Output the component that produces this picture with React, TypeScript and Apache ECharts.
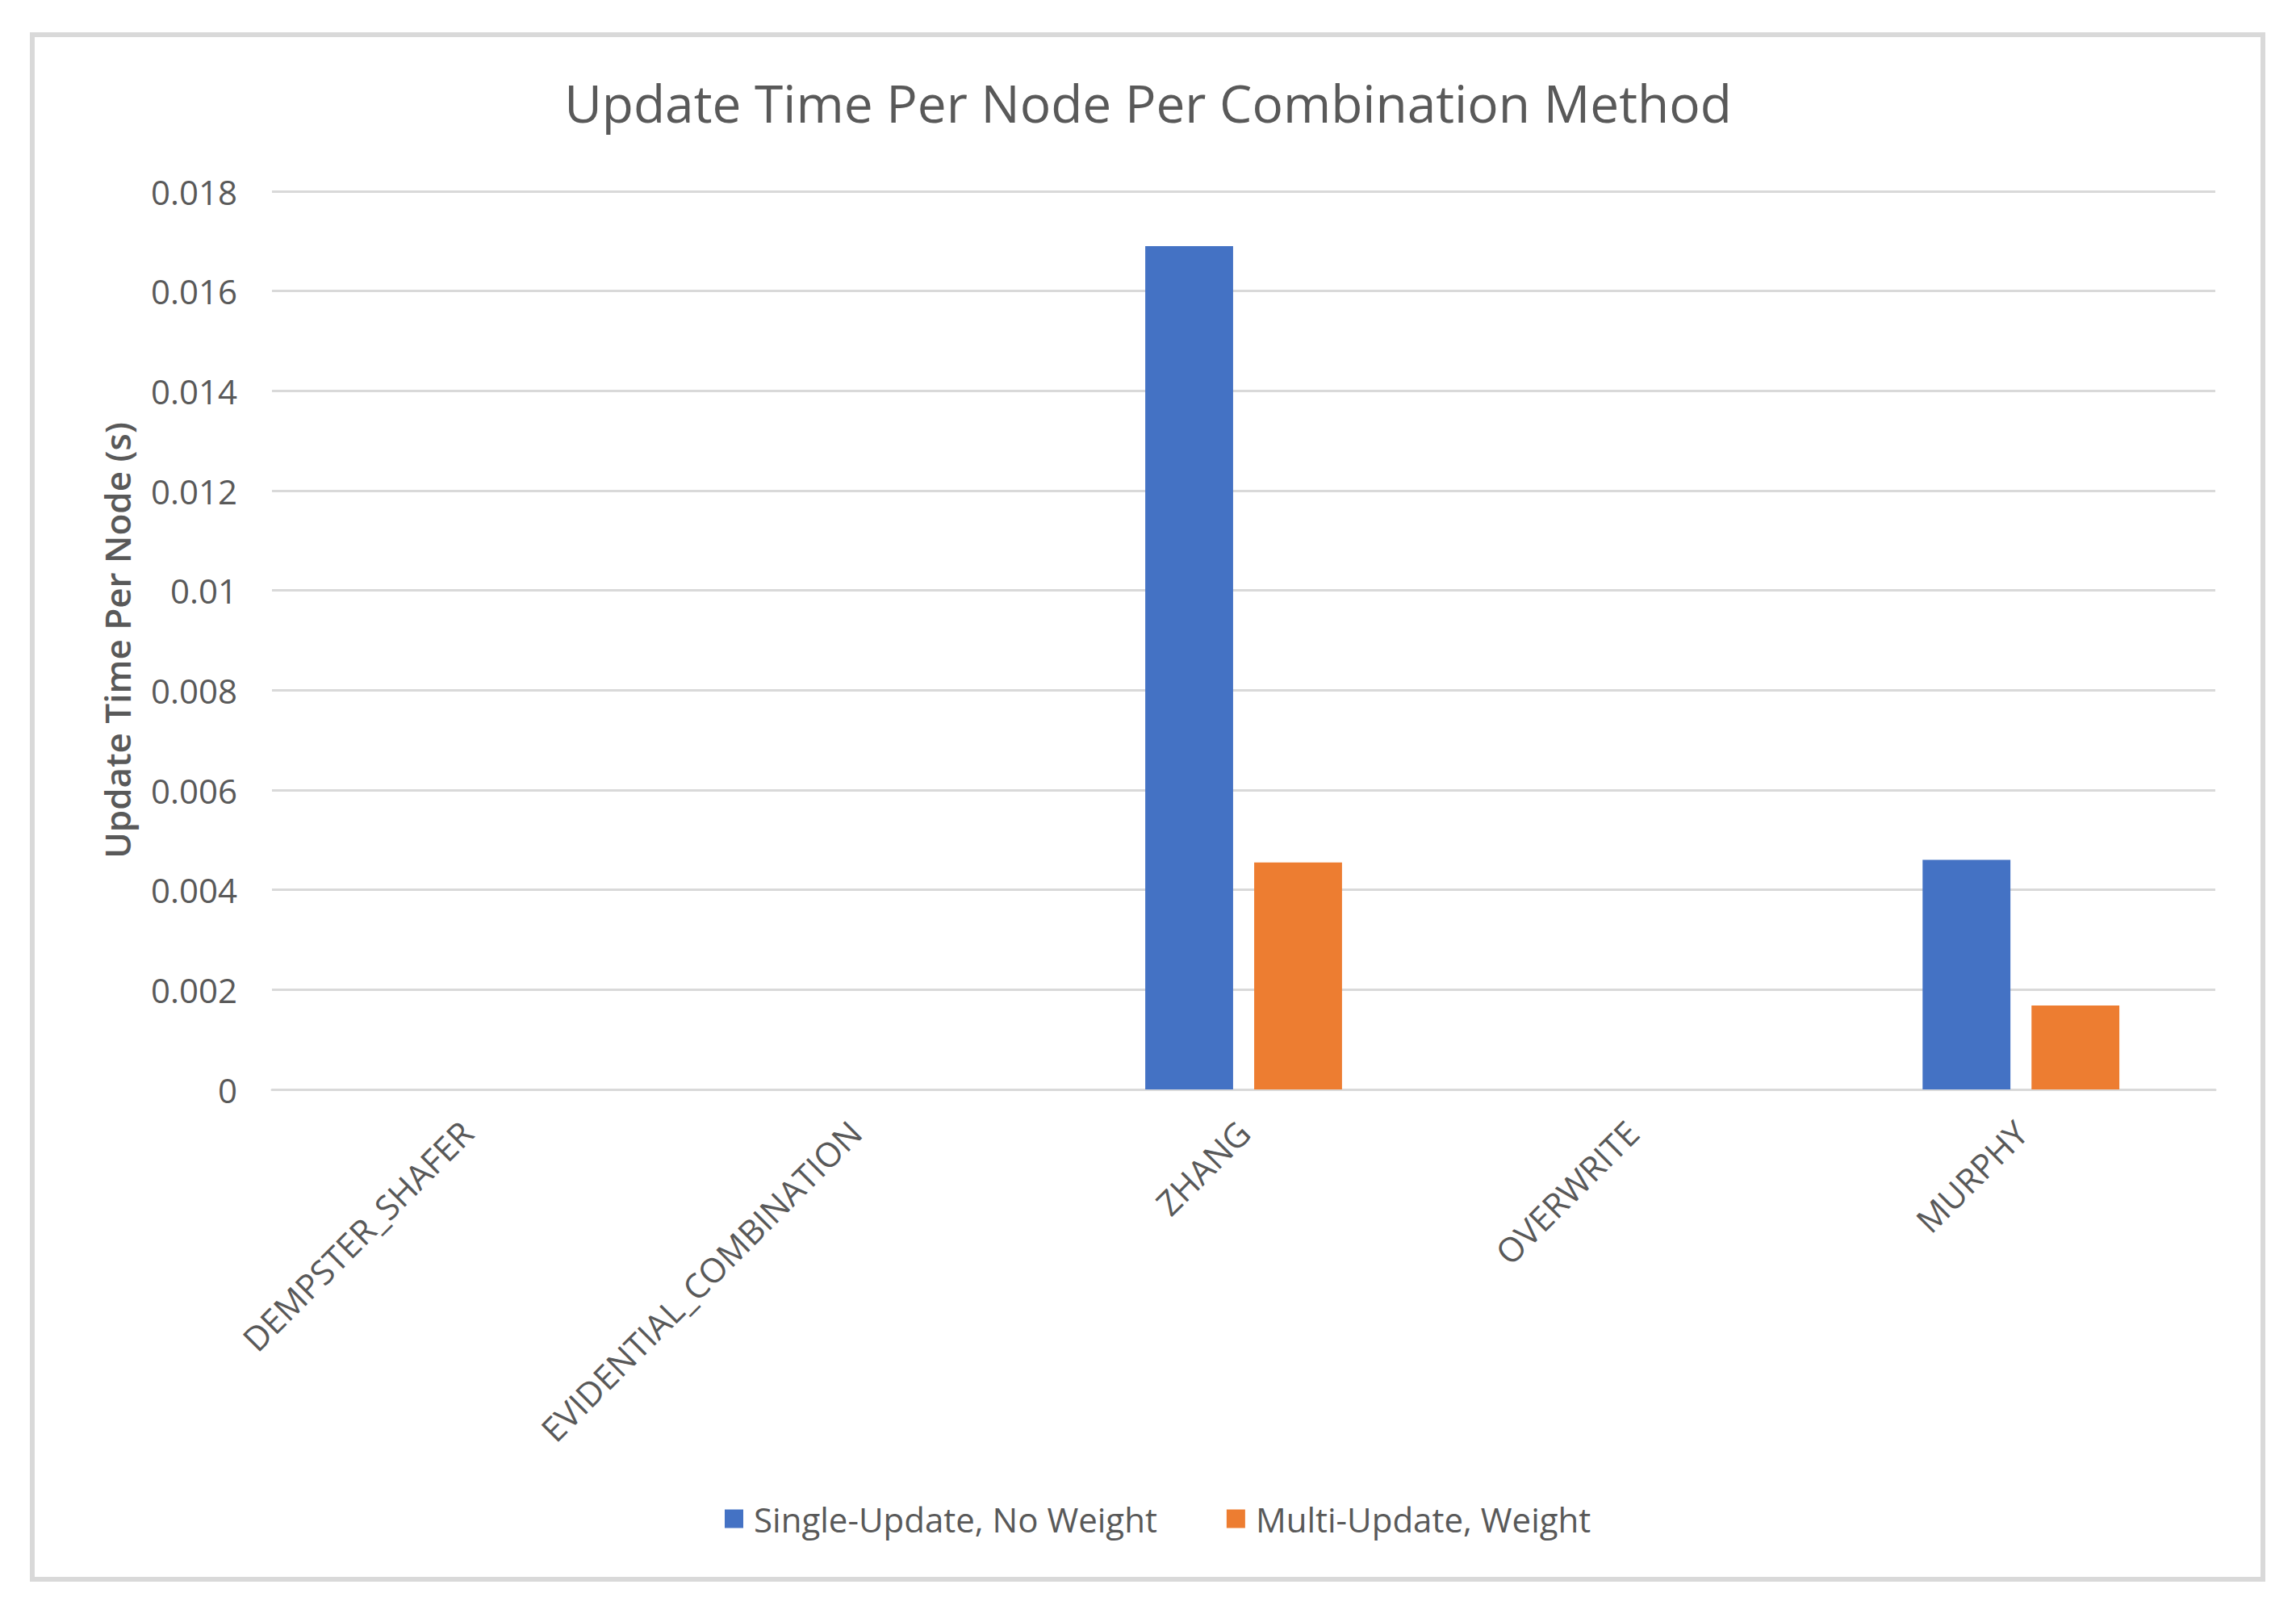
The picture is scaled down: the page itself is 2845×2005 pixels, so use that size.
import React, { useEffect, useRef } from "react";
import * as echarts from "echarts";

const categories = ["DEMPSTER_SHAFER", "EVIDENTIAL_COMBINATION", "ZHANG", "OVERWRITE", "MURPHY"];
const singleUpdateNoWeight = [0, 0, 0.0169, 0, 0.0046];
const multiUpdateWeight = [0, 0, 0.00455, 0, 0.00168];
const seriesNames = ["Single-Update, No Weight", "Multi-Update, Weight"];
const titleText = "Update Time Per Node Per Combination Method";
const yAxisName = "Update Time Per Node (s)";

const FONT = "'Open Sans', 'Noto Sans', sans-serif";
const GRAY = "#595959";

export default function App() {
  const ref = useRef<HTMLDivElement>(null);
  useEffect(() => {
    if (!ref.current) return;
    const chart = echarts.init(ref.current, undefined, { renderer: "svg" });
    chart.setOption({
      animation: false,
      backgroundColor: "#ffffff",
      textStyle: { fontFamily: FONT },
      graphic: [
        {
          type: "rect",
          shape: { x: 40, y: 43, width: 2764, height: 1914 },
          style: { fill: "none", stroke: "#d9d9d9", lineWidth: 6 },
          silent: true,
        },
      ],
      title: {
        text: titleText,
        left: "center",
        top: 90,
        textStyle: { fontFamily: FONT, fontSize: 64, fontWeight: "normal", color: GRAY },
      },
      legend: {
        data: seriesNames,
        left: 893,
        top: 1856,
        itemWidth: 23,
        itemHeight: 23,
        itemGap: 86,
        icon: "rect",
        textStyle: { fontFamily: FONT, fontSize: 42, color: GRAY, padding: [0, 0, 0, 8] },
      },
      grid: { left: 337, right: 100, top: 237, bottom: 655, containLabel: false },
      xAxis: {
        type: "category",
        data: categories,
        axisLine: { show: true, lineStyle: { color: "#d9d9d9", width: 3 } },
        axisTick: { show: false },
        axisLabel: {
          rotate: 45,
          interval: 0,
          margin: 46,
          fontFamily: FONT,
          fontSize: 42,
          color: GRAY,
        },
      },
      yAxis: {
        type: "value",
        min: 0,
        max: 0.018,
        interval: 0.002,
        name: yAxisName,
        nameLocation: "middle",
        nameGap: 170,
        nameTextStyle: { fontFamily: FONT, fontSize: 44, fontWeight: 600, color: GRAY },
        axisLine: { show: false },
        axisTick: { show: false },
        splitLine: { lineStyle: { color: "#d9d9d9", width: 3 } },
        axisLabel: {
          margin: 43,
          fontFamily: FONT,
          fontSize: 42,
          color: GRAY,
          formatter: (v: number) => String(Number(v.toFixed(4))),
        },
      },
      series: [
        {
          name: seriesNames[0],
          type: "bar",
          data: singleUpdateNoWeight,
          barWidth: "22.6%",
          barGap: "24%",
          itemStyle: { color: "#4472C4" },
        },
        {
          name: seriesNames[1],
          type: "bar",
          data: multiUpdateWeight,
          barWidth: "22.6%",
          barGap: "24%",
          itemStyle: { color: "#ED7D31" },
        },
      ],
    });
    return () => chart.dispose();
  }, []);
  return (
    <div
      ref={ref}
      style={{ position: "absolute", left: 0, top: 0, width: 2845, height: 2005 }}
    />
  );
}
